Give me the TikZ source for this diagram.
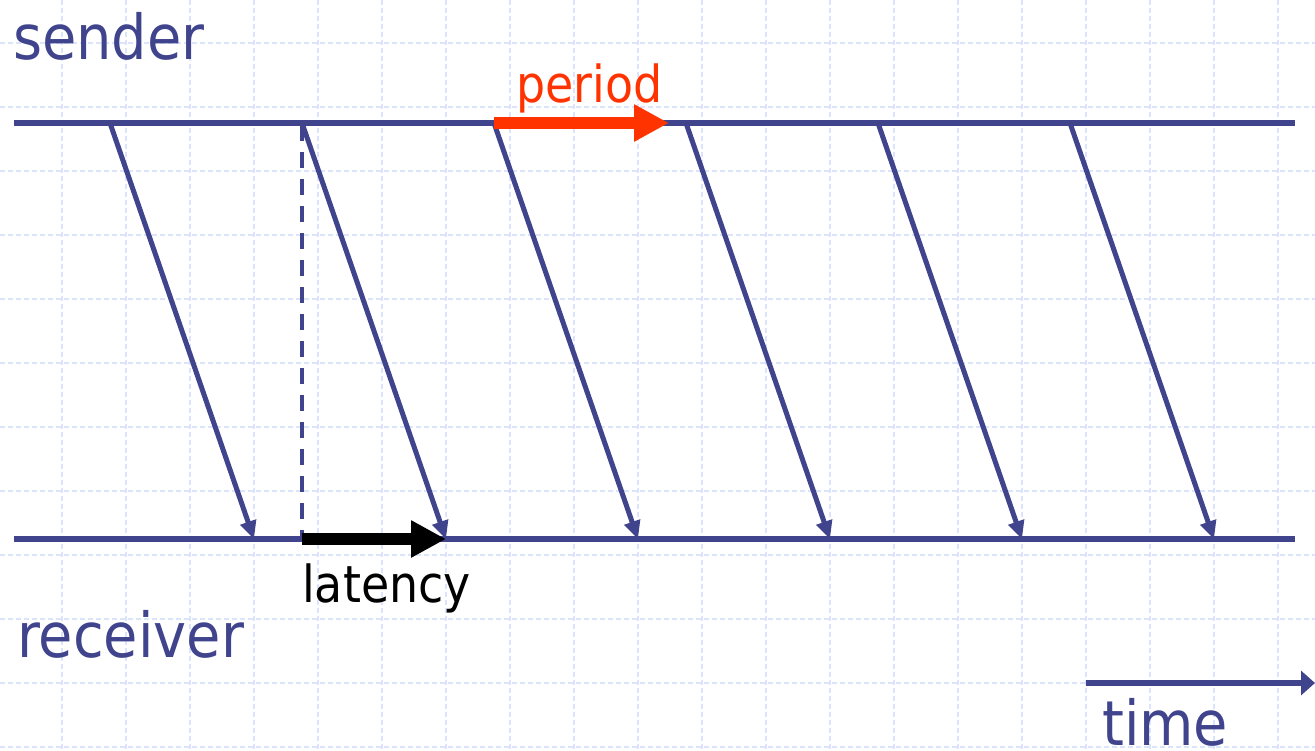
\documentclass[tikz,border=0pt]{standalone}
\usepackage{fontspec}
\usetikzlibrary{arrows.meta}
\newfontfamily\labfont{DejaVu Sans Condensed}
\definecolor{lineblue}{RGB}{64,68,140}
\definecolor{perred}{RGB}{255,51,0}
\definecolor{gridblue}{RGB}{220,228,252}
\begin{document}
\begin{tikzpicture}[x=1pt,y=-1pt,
  gridline/.style={gridblue,line width=1.1pt,dash pattern=on 5pt off 3pt},
  timeline/.style={lineblue,line width=6pt},
  msg/.style={lineblue,line width=5pt,-{Triangle[length=18pt,width=16pt]}},
  guide/.style={lineblue,line width=4pt,dash pattern=on 16pt off 11pt},
  bigarrow/.style={line width=12pt,-{Triangle[length=35pt,width=35pt]}},
  lab/.style={inner sep=0pt,anchor=base west,font=\labfont\fontsize{62}{70}\selectfont,text=lineblue},
  smalllab/.style={inner sep=0pt,anchor=base west,font=\labfont\fontsize{51}{60}\selectfont}]
\useasboundingbox[fill=white] (0,0) rectangle (1315,750);
% grid
\foreach \k in {0,...,19} \draw[gridline] (62+64*\k,0) -- (62+64*\k,750);
\foreach \k in {0,...,11} \draw[gridline] (0,43+64*\k) -- (1315,43+64*\k);
% time lines
\coordinate (sL) at (14,123); \coordinate (sR) at (1295,123);
\coordinate (rL) at (14,539); \coordinate (rR) at (1295,539);
\draw[timeline] (sL) -- (sR);
\draw[timeline] (rL) -- (rR);
% messages
\foreach \i in {0,...,5} {
  \coordinate (s\i) at (110+192*\i,123);
  \coordinate (r\i) at (254+192*\i,539);
}
\foreach \i in {0,...,5} \draw[msg] (s\i) -- (r\i);
% dashed guide
\coordinate (gT) at (302,125); \coordinate (gB) at (302,539);
\draw[guide] (gT) -- (gB);
% period arrow
\coordinate (pA) at (494,123); \coordinate (pB) at (669,123);
\draw[bigarrow,perred] (pA) -- (pB);
% latency arrow
\coordinate (lA) at (302,539); \coordinate (lB) at (446,539);
\draw[bigarrow,black] (lA) -- (lB);
% time arrow
\coordinate (tA) at (1086,683); \coordinate (tB) at (1315,683);
\draw[lineblue,line width=6pt,-{Triangle[length=14pt,width=24pt]}] (tA) -- (tB);
% labels
\node[lab] (sender) at (13,59) {sender};
\node[lab] (receiver) at (17,657) {receiver};
\node[lab] (time) at (1102,745) {time};
\node[smalllab,text=perred] (period) at (516,102) {period};
\node[smalllab,text=black] (latency) at (302,602) {latency};
\end{tikzpicture}
\end{document}
